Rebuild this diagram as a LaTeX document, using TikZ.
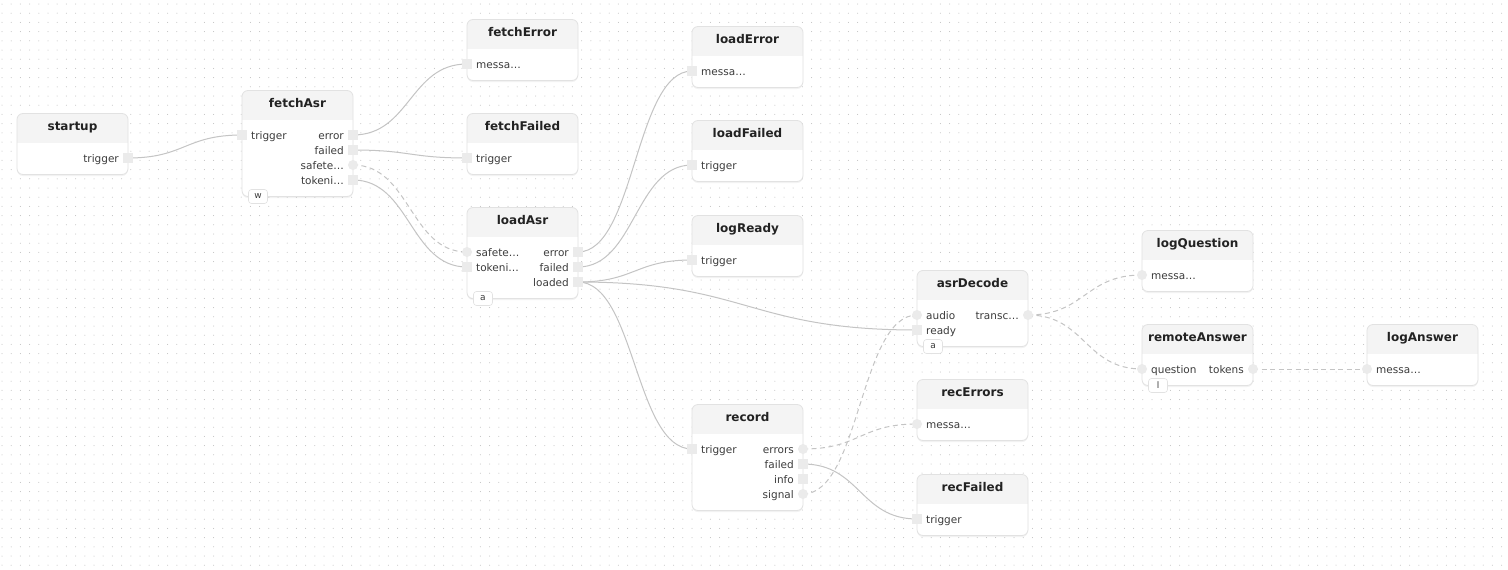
\documentclass[tikz,border=0pt]{standalone}
\usepackage{fontspec}
\setmainfont{DejaVu Sans}
\usetikzlibrary{calc,shadows}
\definecolor{dotc}{HTML}{BDBDBD}
\definecolor{edgec}{HTML}{C4C4C4}
\definecolor{borderc}{HTML}{E2E2E2}
\definecolor{headc}{HTML}{F4F4F4}
\definecolor{portc}{HTML}{EBEBEB}
\definecolor{lblc}{HTML}{3C3C3C}
\definecolor{titlec}{HTML}{222222}
\pgfdeclarelayer{bg}
\pgfdeclarelayer{grid}
\pgfdeclarelayer{edges}
\pgfsetlayers{bg,grid,edges,main}
\tikzset{
  nodebox/.style={rectangle, rounded corners=6pt, fill=white, draw=none,
    minimum width=111pt, inner sep=0pt, outer sep=0pt,
    drop shadow={shadow xshift=0pt,shadow yshift=-1.5pt,opacity=0.10}},
  boxborder/.style={draw=borderc, line width=0.8pt},
  headfill/.style={fill=headc},
  titletext/.style={anchor=base, text=titlec, font=\fontsize{12}{14}\selectfont\bfseries, inner sep=0pt},
  lbl/.style={text=lblc, font=\fontsize{10.5}{12}\selectfont, inner sep=0pt},
  sqport/.style={rectangle, fill=portc, minimum size=9.5pt, inner sep=0pt, outer sep=0pt},
  ciport/.style={circle, fill=portc, minimum size=10pt, inner sep=0pt, outer sep=0pt},
  tagbox/.style={rectangle, rounded corners=3pt, fill=white, draw=borderc, line width=0.6pt,
    minimum width=19pt, minimum height=14pt, inner sep=0pt, text=lblc, font=\fontsize{9}{10}\selectfont},
  edge/.style={draw=edgec, line width=1pt},
  dashedge/.style={edge, dash pattern=on 5pt off 3.5pt},
}
\newcommand\flowbox[5]{%
  \pgfmathsetmacro\bh{61+15*(#4-1)}%
  \node[nodebox, minimum height=\bh pt, anchor=north west] (#1) at (#2,#3) {};
  \begin{scope}
    \clip[rounded corners=6pt] (#1.north west) rectangle (#1.south east);
    \fill[headfill] (#1.north west) rectangle ([yshift=-29pt]#1.north east);
  \end{scope}
  \draw[boxborder, rounded corners=6pt] (#1.north west) rectangle (#1.south east);
  \node[titletext] (#1-title) at ([yshift=-16.5pt]#1.north) {#5};
}
\newcommand\inport[5]{%
  \pgfmathsetmacro\py{44.5+15*(#4-1)}%
  \node[#1] (#2-#3) at ([yshift=-\py pt]#2.north west) {};
  \node[lbl, anchor=base west] (#2-#3-l) at ([xshift=9pt,yshift=-4pt]#2-#3.center) {#5};
}
\newcommand\outport[5]{%
  \pgfmathsetmacro\py{44.5+15*(#4-1)}%
  \node[#1] (#2-#3) at ([yshift=-\py pt]#2.north east) {};
  \node[lbl, anchor=base east] (#2-#3-l) at ([xshift=-9pt,yshift=-4pt]#2-#3.center) {#5};
}
\newcommand\flowtag[2]{%
  \node[tagbox] (#1-tag) at ([xshift=16pt,yshift=0pt]#1.south west) {#2};
}
\newcommand\flowedge[3]{%
  \begin{pgfonlayer}{edges}
  \draw[#1] let \p1=(#2.center), \p2=(#3.center), \n1={0.5*(\x2-\x1)} in
    (\p1) .. controls +(\n1,0) and +(-\n1,0) .. (\p2);
  \end{pgfonlayer}
}
\begin{document}
\begin{tikzpicture}[x=1pt,y=-1pt]
\begin{pgfonlayer}{bg}
\fill[white] (0,0) rectangle (1508,570);
\end{pgfonlayer}
\useasboundingbox (0,0) rectangle (1508,570);
\begin{pgfonlayer}{grid}
\foreach \j in {0,...,61} {
  \draw[dotc, line width=1pt, line cap=round, dash pattern=on 0pt off 9.2pt]
    (2,{4+\j*9.2}) -- (1508,{4+\j*9.2});
}
\end{pgfonlayer}

% column 1
\flowbox{startup}{17}{113.5}{1}{startup}
\outport{sqport}{startup}{trigger}{1}{trigger}

% column 2
\flowbox{fetchAsr}{242}{90.5}{4}{fetchAsr}
\inport{sqport}{fetchAsr}{trigger}{1}{trigger}
\outport{sqport}{fetchAsr}{error}{1}{error}
\outport{sqport}{fetchAsr}{failed}{2}{failed}
\outport{ciport}{fetchAsr}{safete}{3}{safete…}
\outport{sqport}{fetchAsr}{tokeni}{4}{tokeni…}
\flowtag{fetchAsr}{w}

% column 3
\flowbox{fetchError}{467}{19.5}{1}{fetchError}
\inport{sqport}{fetchError}{messa}{1}{messa…}
\flowbox{fetchFailed}{467}{113.5}{1}{fetchFailed}
\inport{sqport}{fetchFailed}{trigger}{1}{trigger}
\flowbox{loadAsr}{467}{207.5}{3}{loadAsr}
\inport{ciport}{loadAsr}{safete}{1}{safete…}
\inport{sqport}{loadAsr}{tokeni}{2}{tokeni…}
\outport{sqport}{loadAsr}{error}{1}{error}
\outport{sqport}{loadAsr}{failed}{2}{failed}
\outport{sqport}{loadAsr}{loaded}{3}{loaded}
\flowtag{loadAsr}{a}

% column 4
\flowbox{loadError}{692}{26.5}{1}{loadError}
\inport{sqport}{loadError}{messa}{1}{messa…}
\flowbox{loadFailed}{692}{120.5}{1}{loadFailed}
\inport{sqport}{loadFailed}{trigger}{1}{trigger}
\flowbox{logReady}{692}{215.5}{1}{logReady}
\inport{sqport}{logReady}{trigger}{1}{trigger}
\flowbox{record}{692}{404.5}{4}{record}
\inport{sqport}{record}{trigger}{1}{trigger}
\outport{ciport}{record}{errors}{1}{errors}
\outport{sqport}{record}{failed}{2}{failed}
\outport{sqport}{record}{info}{3}{info}
\outport{ciport}{record}{signal}{4}{signal}

% column 5
\flowbox{asrDecode}{917}{270.5}{2}{asrDecode}
\inport{ciport}{asrDecode}{audio}{1}{audio}
\inport{sqport}{asrDecode}{ready}{2}{ready}
\outport{ciport}{asrDecode}{transc}{1}{transc…}
\flowtag{asrDecode}{a}
\flowbox{recErrors}{917}{379.5}{1}{recErrors}
\inport{ciport}{recErrors}{messa}{1}{messa…}
\flowbox{recFailed}{917}{474.5}{1}{recFailed}
\inport{sqport}{recFailed}{trigger}{1}{trigger}

% column 6
\flowbox{logQuestion}{1142}{230.5}{1}{logQuestion}
\inport{ciport}{logQuestion}{messa}{1}{messa…}
\flowbox{remoteAnswer}{1142}{324.5}{1}{remoteAnswer}
\inport{ciport}{remoteAnswer}{question}{1}{question}
\outport{ciport}{remoteAnswer}{tokens}{1}{tokens}
\flowtag{remoteAnswer}{l}

% column 7
\flowbox{logAnswer}{1367}{324.5}{1}{logAnswer}
\inport{ciport}{logAnswer}{messa}{1}{messa…}

% edges
\flowedge{edge}{startup-trigger}{fetchAsr-trigger}
\flowedge{edge}{fetchAsr-error}{fetchError-messa}
\flowedge{edge}{fetchAsr-failed}{fetchFailed-trigger}
\flowedge{dashedge}{fetchAsr-safete}{loadAsr-safete}
\flowedge{edge}{fetchAsr-tokeni}{loadAsr-tokeni}
\flowedge{edge}{loadAsr-error}{loadError-messa}
\flowedge{edge}{loadAsr-failed}{loadFailed-trigger}
\flowedge{edge}{loadAsr-loaded}{logReady-trigger}
\flowedge{edge}{loadAsr-loaded}{asrDecode-ready}
\flowedge{edge}{loadAsr-loaded}{record-trigger}
\flowedge{dashedge}{record-errors}{recErrors-messa}
\flowedge{edge}{record-failed}{recFailed-trigger}
\flowedge{dashedge}{record-signal}{asrDecode-audio}
\flowedge{dashedge}{asrDecode-transc}{logQuestion-messa}
\flowedge{dashedge}{asrDecode-transc}{remoteAnswer-question}
\flowedge{dashedge}{remoteAnswer-tokens}{logAnswer-messa}
\end{tikzpicture}
\end{document}
